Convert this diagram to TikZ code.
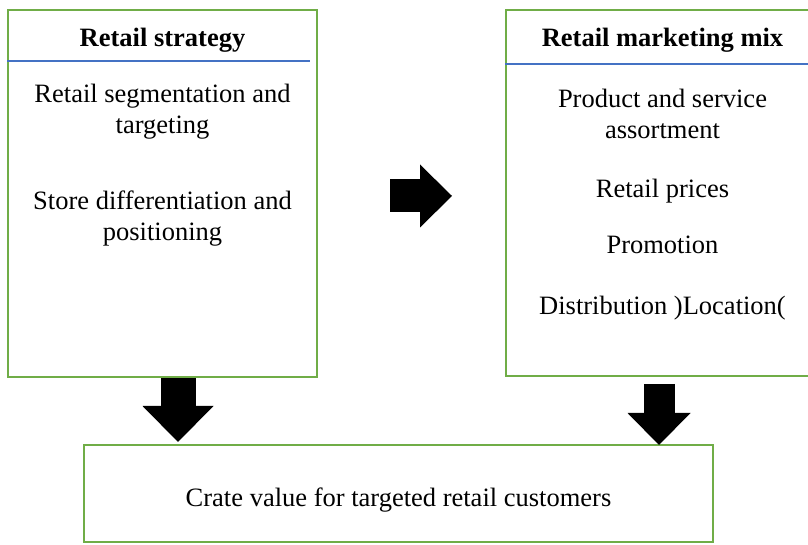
\documentclass[tikz,border=0pt]{standalone}
\usepackage{fontspec}
\setmainfont{Liberation Serif}
\usetikzlibrary{arrows.meta, positioning, calc}
\definecolor{colGreen}{RGB}{112, 173, 71}
\definecolor{colBlue}{RGB}{68, 114, 196}

\begin{document}
\begin{tikzpicture}[x=1pt, y=1pt,
    every node/.style={font=\fontsize{26.5}{31}\selectfont},
    box/.style={draw=colGreen, line width=2pt, inner sep=0pt},
    txt/.style={align=center, anchor=base, inner sep=0pt},
    blockarrow/.style n args={3}{line width=#1, -{Triangle[length=#2 0 0, width=#3 0 0, line width=0pt]}}]
    \clip (0,0) rectangle (808,545);

    % --- Retail strategy ---
    \node[box, minimum width=309pt, minimum height=367pt] (strat) at (162.5, 351.5) {};
    \draw[colBlue, line width=1.5pt] ([yshift=-52pt]strat.north west) -- ([shift={(-8pt,-52pt)}]strat.north east);
    \node[txt] (stratTitle) at ([yshift=-37.5pt]strat.north) {\textbf{Retail strategy}};
    \node[txt] (segm) at ([yshift=-124.5pt]strat.north) {Retail segmentation and\\targeting};
    \node[txt] (diff) at ([yshift=-232pt]strat.north) {Store differentiation and\\positioning};

    % --- Retail marketing mix ---
    \node[box, minimum width=309pt, minimum height=366pt] (mix) at (660.5, 352) {};
    \draw[colBlue, line width=1.5pt] ([yshift=-55pt]mix.north west) -- ([yshift=-55pt]mix.north east);
    \node[txt] (mixTitle) at ([shift={(2pt,-37.5pt)}]mix.north) {\textbf{Retail marketing mix}};
    \node[txt] (prod) at ([shift={(2pt,-130pt)}]mix.north) {Product and service\\assortment};
    \node[txt] (price) at ([shift={(2pt,-189pt)}]mix.north) {Retail prices};
    \node[txt] (promo) at ([shift={(2pt,-245pt)}]mix.north) {Promotion};
    \node[txt] (dist) at ([shift={(2pt,-306pt)}]mix.north) {Distribution )Location(};

    % --- Value ---
    \node[box, minimum width=629pt, minimum height=97pt] (value) at (398.5, 51.5) {};
    \node[txt] (valueText) at ([yshift=-13.5pt]value.center) {Crate value for targeted retail customers};

    % --- Arrows ---
    \draw[blockarrow={33pt}{32pt}{63pt}] ([shift={(72pt,-2.5pt)}]strat.east) -- ([shift={(-53pt,-3pt)}]mix.west);
    \coordinate (leftTop) at ([xshift=15.5pt]strat.south);
    \draw[blockarrow={35pt}{36pt}{71pt}] (leftTop) -- ($(leftTop |- value.north)+(0,2)$);
    \coordinate (rightTop) at ([shift={(-1.5pt,-7pt)}]mix.south);
    \draw[blockarrow={31pt}{32pt}{63pt}] (rightTop) -- ($(rightTop |- value.north)+(0,-1)$);
\end{tikzpicture}
\end{document}
